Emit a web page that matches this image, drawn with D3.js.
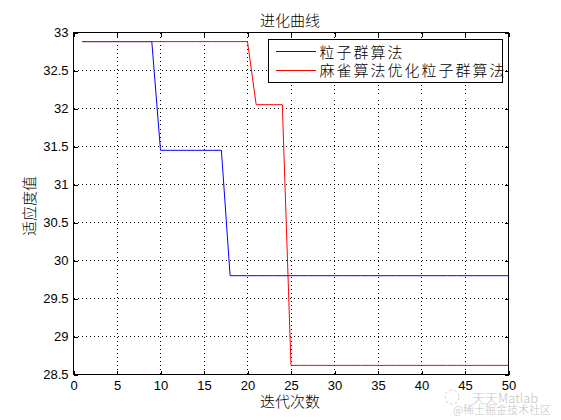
<!DOCTYPE html>
<html lang="zh">
<head>
<meta charset="UTF-8">
<title>进化曲线</title>
<script src="https://d3js.org/d3.v7.min.js"></script>
<style>
    body { margin: 0; background: #ffffff; }
    text { font-family: "Liberation Sans", Arial, sans-serif; font-size: 13px; fill: #000; }
    .cjk { font-family: "Noto Sans CJK SC", sans-serif; font-size: 15px; font-weight: 300; }
    .grid line { stroke: #000; stroke-dasharray: 1,3; shape-rendering: crispEdges; }
    .axis path { display: none; }
    .axis line { stroke: #000; shape-rendering: crispEdges; }
</style>
</head>
<body>
<svg width="561" height="420"></svg>
<script>
    // iteration numbers
    var iters = [1,2,3,4,5,6,7,8,9,10,11,12,13,14,15,16,17,18,19,20,21,22,23,24,25,
                 26,27,28,29,30,31,32,33,34,35,36,37,38,39,40,41,42,43,44,45,46,47,48,49,50];
    // 粒子群算法 best fitness
    var psoFit = [32.88,32.88,32.88,32.88,32.88,32.88,32.88,32.88,32.88,31.45,
                  31.45,31.45,31.45,31.45,31.45,31.45,31.45,29.80,29.80,29.80,
                  29.80,29.80,29.80,29.80,29.80,29.80,29.80,29.80,29.80,29.80,
                  29.80,29.80,29.80,29.80,29.80,29.80,29.80,29.80,29.80,29.80,
                  29.80,29.80,29.80,29.80,29.80,29.80,29.80,29.80,29.80,29.80];
    // 麻雀算法优化粒子群算法 best fitness
    var ssaPsoFit = [32.88,32.88,32.88,32.88,32.88,32.88,32.88,32.88,32.88,32.88,
                     32.88,32.88,32.88,32.88,32.88,32.88,32.88,32.88,32.88,32.88,
                     32.05,32.05,32.05,32.05,28.62,28.62,28.62,28.62,28.62,28.62,
                     28.62,28.62,28.62,28.62,28.62,28.62,28.62,28.62,28.62,28.62,
                     28.62,28.62,28.62,28.62,28.62,28.62,28.62,28.62,28.62,28.62];
    var seriesNames = ["粒子群算法", "麻雀算法优化粒子群算法"];
    var seriesColors = ["#0000ff", "#ff0000"];
    var xTicks = [0,5,10,15,20,25,30,35,40,45,50];
    var yTicks = [28.5,29,29.5,30,30.5,31,31.5,32,32.5,33];

    var svg = d3.select("svg");
    var plotL = 73, plotR = 508, plotT = 32, plotB = 374;

    var x = d3.scaleLinear().domain([0, 50]).range([plotL, plotR]);
    var y = d3.scaleLinear().domain([28.5, 33]).range([plotB, plotT]);

    var g = svg.append("g").attr("transform", "translate(0.5,0.5)");

    // dotted grid
    var grid = g.append("g").attr("class", "grid");
    grid.selectAll(".gx")
        .data(xTicks.slice(1, -1))
        .enter().append("line")
        .attr("x1", function(d) { return x(d); })
        .attr("x2", function(d) { return x(d); })
        .attr("y1", plotT).attr("y2", plotB);
    grid.selectAll(".gy")
        .data(yTicks.slice(1, -1))
        .enter().append("line")
        .attr("y1", function(d) { return y(d); })
        .attr("y2", function(d) { return y(d); })
        .attr("x1", plotL).attr("x2", plotR);

    // axes, ticks inward
    g.append("g").attr("class", "axis")
        .attr("transform", "translate(0," + plotB + ")")
        .call(d3.axisBottom(x).tickValues(xTicks).tickSize(-4).tickPadding(6)
            .tickFormat(function(d) { return d; }));
    g.append("g").attr("class", "axis")
        .attr("transform", "translate(" + plotL + ",0)")
        .call(d3.axisLeft(y).tickValues(yTicks).tickSize(-4).tickPadding(5)
            .tickFormat(function(d) { return d; }));
    g.append("g").attr("class", "axis")
        .attr("transform", "translate(0," + plotT + ")")
        .call(d3.axisTop(x).tickValues(xTicks).tickSize(-4).tickFormat(""));
    g.append("g").attr("class", "axis")
        .attr("transform", "translate(" + plotR + ",0)")
        .call(d3.axisRight(y).tickValues(yTicks).tickSize(-4).tickFormat(""));
    g.selectAll(".axis text")
        .style("font-family", "Liberation Sans, Arial, sans-serif")
        .style("font-size", "13px");

    g.append("rect")
        .attr("x", plotL).attr("y", plotT)
        .attr("width", plotR - plotL).attr("height", plotB - plotT)
        .attr("fill", "none").attr("stroke", "#000")
        .style("shape-rendering", "crispEdges");

    // curves
    var line = d3.line()
        .x(function(d) { return x(d[0]); })
        .y(function(d) { return y(d[1]); });

    g.append("path")
        .datum(d3.zip(iters, psoFit))
        .attr("d", line)
        .attr("fill", "none").attr("stroke", seriesColors[0]).attr("stroke-width", 1);
    g.append("path")
        .datum(d3.zip(iters, ssaPsoFit))
        .attr("d", line)
        .attr("fill", "none").attr("stroke", seriesColors[1]).attr("stroke-width", 1);

    // legend
    var legend = g.append("g");
    legend.append("rect")
        .attr("x", 268).attr("y", 39).attr("width", 234).attr("height", 43)
        .attr("fill", "#fff").attr("stroke", "#000")
        .style("shape-rendering", "crispEdges");
    seriesNames.forEach(function(name, i) {
        var ly = 51 + i * 18.5;
        legend.append("line")
            .attr("x1", 275).attr("x2", 315).attr("y1", ly).attr("y2", ly)
            .attr("stroke", seriesColors[i]).style("shape-rendering", "crispEdges");
        legend.append("text").attr("class", "cjk")
            .attr("x", 319).attr("y", ly + 6)
            .style("letter-spacing", "2px")
            .text(name);
    });

    // titles
    svg.append("text").attr("class", "cjk")
        .attr("x", 290).attr("y", 26).attr("text-anchor", "middle")
        .text("进化曲线");
    svg.append("text").attr("class", "cjk")
        .attr("x", 290).attr("y", 407).attr("text-anchor", "middle")
        .text("迭代次数");
    svg.append("text").attr("class", "cjk")
        .attr("transform", "translate(35,206) rotate(-90)")
        .attr("text-anchor", "middle")
        .text("适应度值");

    // watermark
    svg.append("text").attr("class", "cjk")
        .attr("x", 472).attr("y", 403)
        .style("font-size", "13px").style("fill", "#c4c4c4")
        .text("天天Matlab");
    svg.append("circle")
        .attr("cx", 452).attr("cy", 397).attr("r", 7)
        .attr("fill", "none").attr("stroke", "#d0d0d0").attr("stroke-dasharray", "3,2");
    svg.append("text").attr("class", "cjk")
        .attr("x", 453).attr("y", 414)
        .style("font-size", "11px").style("fill", "#c4c4c4")
        .text("@稀土掘金技术社区");
</script>
</body>
</html>
